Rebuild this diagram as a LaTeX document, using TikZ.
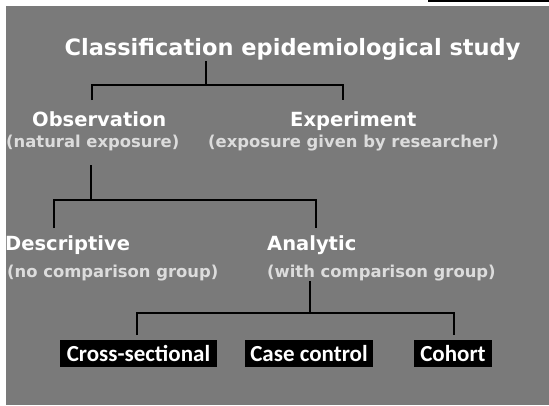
\documentclass[tikz,border=0pt]{standalone}
\usepackage{fontspec}
\setmainfont{DejaVu Sans}
\newfontfamily\boxfont{Carlito}
\definecolor{panel}{HTML}{7A7A7A}
\definecolor{paren}{HTML}{DCDCDC}
\begin{document}
\begin{tikzpicture}[x=1pt,y=-1pt,
  heading/.style={font=\bfseries\fontsize{19.5}{22}\selectfont, text=white, inner sep=0pt},
  remark/.style={font=\bfseries\fontsize{16.4}{18}\selectfont, text=paren, inner sep=0pt},
  studybox/.style={fill=black, text=white, font=\boxfont\bfseries\fontsize{23}{25}\selectfont,
                   minimum height=27pt, inner xsep=5pt, inner ysep=0pt},
  link/.style={draw=black, line width=1.4pt}]
  \useasboundingbox (0,0) rectangle (549,405);
  \fill[white] (0,0) rectangle (549,405);
  \fill[panel] (6,6) rectangle (549,405);
  \fill[black] (428,0) rectangle (549,2.2);

  % title
  \node[heading, font=\bfseries\fontsize{22.5}{26}\selectfont, anchor=base] (title) at (292.5,55)
    {Classification epidemiological study};

  % first level
  \node[heading, anchor=base west] (obs) at (32,126) {Observation};
  \node[heading, anchor=base west] (exp) at (290,126) {Experiment};
  \node[remark, anchor=base west] (obsr) at (6,147) {(natural exposure)};
  \node[remark, anchor=base west] (expr) at (208,147) {(exposure given by researcher)};

  % second level
  \node[heading, anchor=base west] (desc) at (5,250) {Descriptive};
  \node[heading, anchor=base west] (ana) at (267,250) {Analytic};
  \node[remark, anchor=base west] (descr) at (7,277) {(no comparison group)};
  \node[remark, anchor=base west] (anar) at (267,277) {(with comparison group)};

  % study designs
  \node[studybox, minimum width=157pt] (cross) at (138.5,353.5) {Cross-sectional};
  \node[studybox, minimum width=128pt] (case) at (309,353.5) {Case control};
  \node[studybox, minimum width=78pt] (cohort) at (453,353.5) {Cohort};

  % junction points of the tree
  \coordinate (t0) at (206,61);
  \coordinate (t1) at (206,85);
  \coordinate (tl) at (92,85);
  \coordinate (tr) at (343,85);
  \coordinate (tld) at (92,100);
  \coordinate (trd) at (343,100);

  \coordinate (o0) at (91,165);
  \coordinate (o1) at (91,200);
  \coordinate (ol) at (54,200);
  \coordinate (or) at (316,200);
  \coordinate (old) at (54,228);
  \coordinate (ord) at (316,228);

  \coordinate (a0) at (310,281);
  \coordinate (a1) at (310,313);
  \coordinate (al) at (137,313);
  \coordinate (ar) at (454,313);
  \coordinate (ald) at (137,335);
  \coordinate (ard) at (454,335);

  \draw[link] (t0) -- (t1);
  \draw[link] (tld) -- (tl) -- (tr) -- (trd);
  \draw[link] (o0) -- (o1);
  \draw[link] (old) -- (ol) -- (or) -- (ord);
  \draw[link] (a0) -- (a1);
  \draw[link] (ald) -- (al) -- (ar) -- (ard);
\end{tikzpicture}
\end{document}
